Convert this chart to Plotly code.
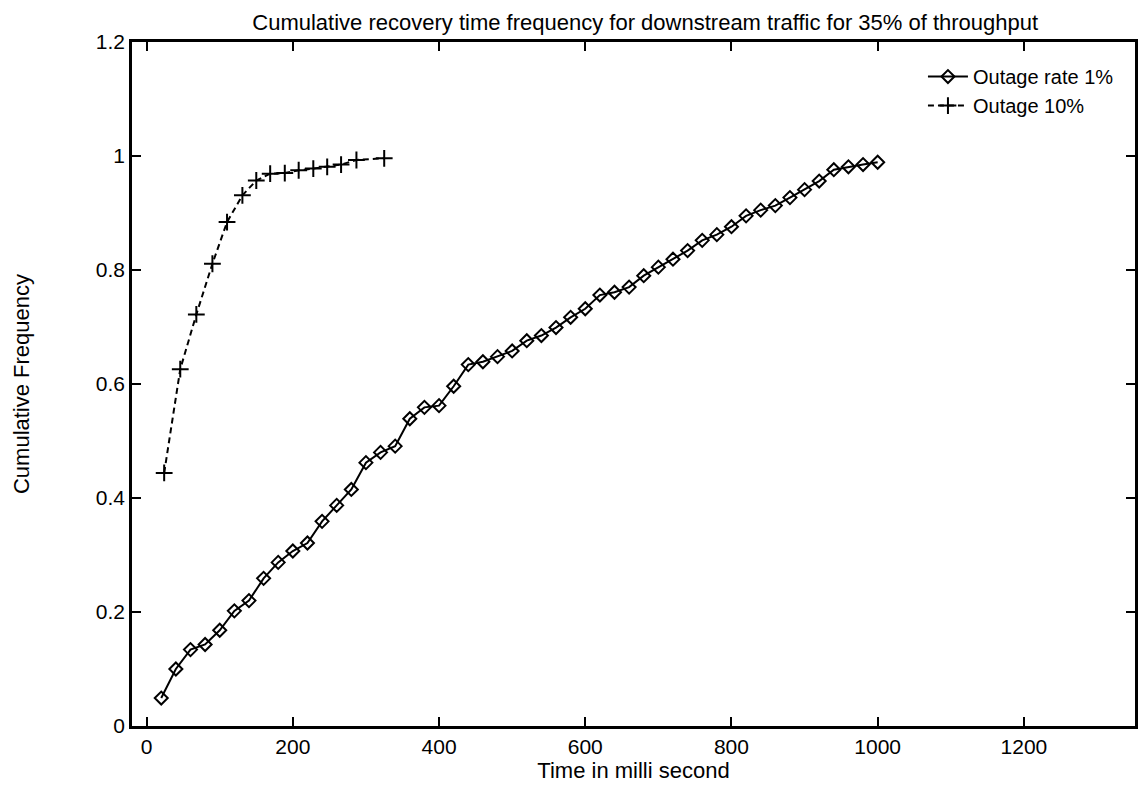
import plotly.graph_objects as go

# Outage rate 1%
x_1pct = [20, 40, 60, 80, 100, 120, 140, 160, 180, 200,
          220, 240, 260, 280, 300, 320, 340, 360, 380, 400,
          420, 440, 460, 480, 500, 520, 540, 560, 580, 600,
          620, 640, 660, 680, 700, 720, 740, 760, 780, 800,
          820, 840, 860, 880, 900, 920, 940, 960, 980, 1000]
y_1pct = [0.049, 0.100, 0.134, 0.143, 0.168, 0.202, 0.220, 0.259, 0.287, 0.307,
          0.321, 0.359, 0.387, 0.415, 0.462, 0.480, 0.491, 0.539, 0.559, 0.562,
          0.596, 0.634, 0.639, 0.648, 0.658, 0.676, 0.685, 0.699, 0.717, 0.732,
          0.756, 0.761, 0.770, 0.790, 0.805, 0.819, 0.834, 0.852, 0.862, 0.876,
          0.895, 0.905, 0.913, 0.927, 0.941, 0.956, 0.976, 0.981, 0.985, 0.989]

# Outage 10%
x_10pct = [24, 46, 68, 90, 110, 131, 150, 169, 189, 208, 228, 247, 266, 287, 325]
y_10pct = [0.444, 0.626, 0.722, 0.811, 0.884, 0.931, 0.957, 0.969, 0.970, 0.975,
           0.978, 0.981, 0.985, 0.993, 0.996]

x_ticks = [0, 200, 400, 600, 800, 1000, 1200]
y_ticks = [0, 0.2, 0.4, 0.6, 0.8, 1, 1.2]
y_tick_labels = ["0", "0.2", "0.4", "0.6", "0.8", "1", "1.2"]

title_text = "Cumulative recovery time frequency for downstream traffic for 35% of throughput"
x_title = "Time in milli second"
y_title = "Cumulative Frequency"

FONT = "Liberation Sans, Arial, Helvetica, sans-serif"

fig = go.Figure()
fig.add_trace(go.Scatter(
    x=x_1pct, y=y_1pct, mode="lines+markers", name="Outage rate 1%",
    line=dict(color="black", width=2),
    marker=dict(symbol="diamond-open", size=10, color="black", line=dict(width=2)),
))
fig.add_trace(go.Scatter(
    x=x_10pct, y=y_10pct, mode="lines+markers", name="Outage 10%",
    line=dict(color="black", width=2, dash="6px,4px"),
    marker=dict(symbol="cross-thin", size=12, color="black", line=dict(width=2, color="black")),
))

axis_common = dict(
    showgrid=False, zeroline=False, showline=True, linecolor="black", linewidth=2.5,
    ticks="inside", ticklen=9, tickwidth=2, tickcolor="black", mirror="ticks",
    tickfont=dict(family=FONT, size=21, color="black"),
)

fig.update_layout(
    width=1142, height=788,
    paper_bgcolor="white", plot_bgcolor="white",
    margin=dict(l=132, r=4, t=42, b=62),
    font=dict(family=FONT, color="black"),
    title=dict(text=title_text, x=0.565, xanchor="center", y=0.972, yanchor="middle",
               yref="container", font=dict(family=FONT, size=22, color="black")),
    xaxis=dict(range=[-20, 1352], tickvals=x_ticks,
               title=dict(text=x_title, standoff=6, font=dict(family=FONT, size=22, color="black")),
               **axis_common),
    yaxis=dict(range=[0, 1.2], tickvals=y_ticks, ticktext=y_tick_labels,
               title=dict(text=y_title, standoff=61, font=dict(family=FONT, size=22, color="black")),
               **axis_common),
    legend=dict(x=0.984, xanchor="right", y=0.978, yanchor="top",
                bgcolor="rgba(0,0,0,0)", font=dict(family=FONT, size=20, color="black"),
                tracegroupgap=0, itemwidth=40),
    showlegend=True,
)

fig.write_html("out.html")
